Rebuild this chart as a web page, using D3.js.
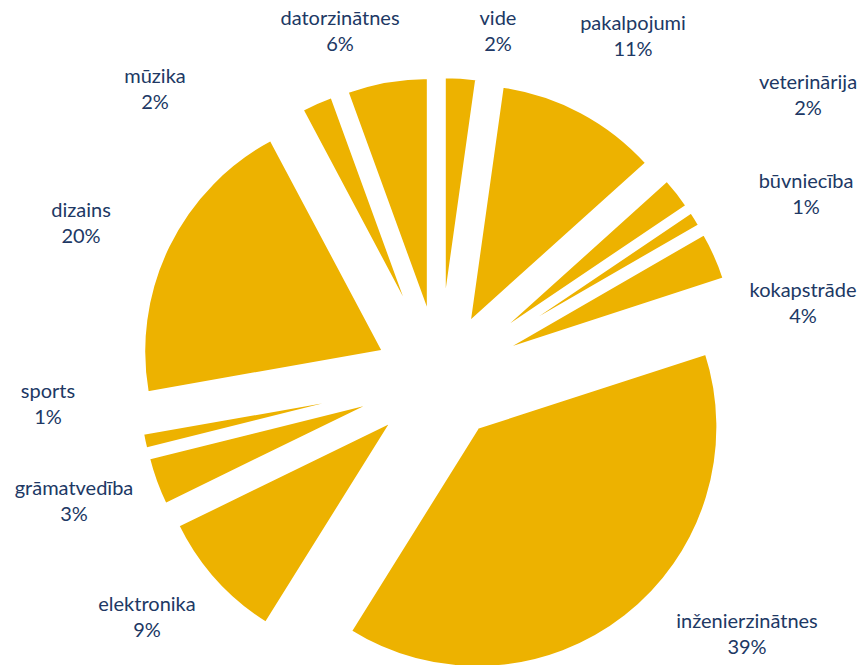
<!DOCTYPE html>
<html>
<head>
<meta charset="utf-8">
<script src="https://cdn.jsdelivr.net/npm/d3@7"></script>
<style>
  body { margin: 0; background: #fff; }
  .lbl { font-family: Lato, "Open Sans", sans-serif; font-size: 20px; fill: #203864; }
</style>
</head>
<body>
<div class="chart"></div>
<script>
// categories clockwise from 12 o'clock
const categories = ["vide", "pakalpojumi", "veterinārija", "būvniecība", "kokapstrāde",
  "inženierzinātnes", "elektronika", "grāmatvedība", "sports", "dizains", "mūzika", "datorzinātnes"];
// counts (total 90)
const counts = [2, 10, 2, 1, 3, 35, 8, 3, 1, 18, 2, 5];
// percentage labels as printed on the chart
const pctLabels = ["2%", "11%", "2%", "1%", "4%", "39%", "9%", "3%", "1%", "20%", "2%", "6%"];

// label anchor (center x, first baseline y) - layout only
const labelAt = [
  [498, 25], [633, 30], [808, 89], [806, 188], [803, 297],
  [747, 628], [147, 611], [74, 495], [48, 398], [81, 217], [155, 83], [340, 25]
];

const w = 862, h = 665;
const cx = 439.5, cy = 378.5;
const radius = 241;
const explode = 61.5;

const svg = d3.select(".chart")
  .append("svg")
  .attr("width", w)
  .attr("height", h);

const pie = d3.pie().sort(null).value(d => d);
const arcs = pie(counts);

const arc = d3.arc().innerRadius(0).outerRadius(radius);

const g = svg.append("g").attr("transform", "translate(" + cx + "," + cy + ")");

/* exploded slices */
g.selectAll("path")
  .data(arcs)
  .enter()
  .append("path")
  .attr("d", arc)
  .attr("transform", d => {
    const mid = (d.startAngle + d.endAngle) / 2;
    return "translate(" + (Math.sin(mid) * explode) + "," + (-Math.cos(mid) * explode) + ")";
  })
  .attr("fill", "#EDB200")
  .attr("stroke", "#fff")
  .attr("stroke-width", 4)
  .attr("stroke-linejoin", "miter");

/* labels */
const labels = svg.selectAll("text.lbl")
  .data(categories)
  .enter()
  .append("text")
  .attr("class", "lbl")
  .attr("text-anchor", "middle");

labels.append("tspan")
  .attr("x", (d, i) => labelAt[i][0])
  .attr("y", (d, i) => labelAt[i][1])
  .text(d => d);

labels.append("tspan")
  .attr("x", (d, i) => labelAt[i][0])
  .attr("y", (d, i) => labelAt[i][1] + 26)
  .text((d, i) => pctLabels[i]);
</script>
</body>
</html>
